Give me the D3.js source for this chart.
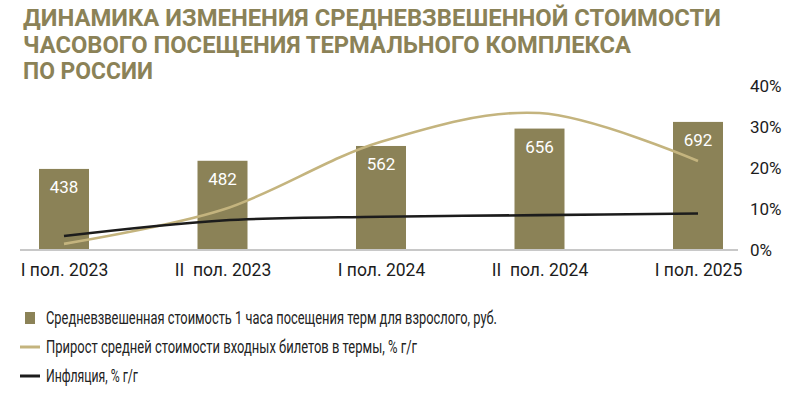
<!DOCTYPE html>
<html><head><meta charset="utf-8">
<script src="https://cdn.jsdelivr.net/npm/d3@7"></script>
<style>
body{margin:0;background:#fff;}
svg{display:block;font-family:Roboto, "Noto Sans", sans-serif;}
</style></head>
<body><svg id="c" width="798" height="395"></svg>
<script>
const titleLines = ["ДИНАМИКА ИЗМЕНЕНИЯ СРЕДНЕВЗВЕШЕННОЙ СТОИМОСТИ","ЧАСОВОГО ПОСЕЩЕНИЯ ТЕРМАЛЬНОГО КОМПЛЕКСА","ПО РОССИИ"];
const categories = ["I пол. 2023","II\u00a0\u00a0пол. 2023","I пол. 2024","II\u00a0\u00a0пол. 2024","I пол. 2025"];
const priceValues = [438, 482, 562, 656, 692];
const growthValues = [1.5, 9.8, 26.4, 33.4, 21.7];
const inflationValues = [3.4, 7.2, 8.1, 8.5, 8.9];
const rightTicks = [0, 10, 20, 30, 40];
const legendLabels = ["Средневзвешенная стоимость 1 часа посещения терм для взрослого, руб.","Прирост средней стоимости входных билетов в термы, % г/г","Инфляция, % г/г"];

const olive = "#8b8257", beige = "#c4b47e", dark = "#1c1c1c";
const svg = d3.select("#c");

// title
const tl = [698, 608, 130];
svg.append("g").selectAll("text").data(titleLines).join("text")
  .attr("x", 23).attr("y", (d,i)=>26+i*26.5)
  .attr("fill", olive).attr("font-size", 23.5).attr("font-weight", 700)
  .attr("textLength", (d,i)=>tl[i]).attr("lengthAdjust","spacingAndGlyphs")
  .text(d=>d);

const x = d3.scalePoint().domain(categories).range([64, 698]);
const yL = d3.scaleLinear().domain([0, 886]).range([250, 86]);
const yR = d3.scaleLinear().domain([0, 40]).range([250, 86]);
const bw = 50;

// bars
svg.append("g").selectAll("rect").data(priceValues).join("rect")
  .attr("x",(d,i)=>x(categories[i])-bw/2).attr("width",bw)
  .attr("y",d=>yL(d)).attr("height",d=>yL(0)-yL(d)).attr("fill",olive);

// baseline
svg.append("line").attr("x1",20).attr("x2",738).attr("y1",yL(0)).attr("y2",yL(0))
  .attr("stroke","#c8c8c8").attr("stroke-width",2);

// bar labels
svg.append("g").selectAll("text").data(priceValues).join("text")
  .attr("x",(d,i)=>x(categories[i])).attr("y",d=>yL(d)+24)
  .attr("text-anchor","middle").attr("fill","#fff").attr("font-size",17)
  .text(d=>d);

// lines
const line = vals => d3.line().x((d,i)=>x(categories[i])).y(d=>yR(d)).curve(d3.curveCatmullRom.alpha(0.5))(vals);
svg.append("path").attr("d",line(growthValues)).attr("fill","none").attr("stroke",beige).attr("stroke-width",2.6);
svg.append("path").attr("d",line(inflationValues)).attr("fill","none").attr("stroke",dark).attr("stroke-width",2.6);

// right axis
const ax = svg.append("g").attr("transform","translate(741,0)")
  .call(d3.axisRight(yR).tickValues(rightTicks).tickFormat(d=>d+"%").tickSize(0).tickPadding(9));
ax.select(".domain").remove();
ax.selectAll("text").attr("font-size",17).attr("fill",dark).attr("font-family","Roboto, sans-serif");

// x axis labels
const xa = svg.append("g").attr("transform","translate(0,250)")
  .call(d3.axisBottom(x).tickSize(0).tickPadding(14));
xa.select(".domain").remove();
xa.selectAll("text").attr("font-size",17.5).attr("fill",dark).attr("font-family","Roboto, sans-serif");

// legend
const lg = svg.append("g");
const ly = [318, 347, 376];
const lw = [451, 371, 92];
lg.append("rect").attr("x",25).attr("y",ly[0]-6).attr("width",10).attr("height",12).attr("fill",olive);
lg.append("line").attr("x1",20).attr("x2",40).attr("y1",ly[1]).attr("y2",ly[1]).attr("stroke",beige).attr("stroke-width",3);
lg.append("line").attr("x1",20).attr("x2",40).attr("y1",ly[2]).attr("y2",ly[2]).attr("stroke",dark).attr("stroke-width",3);
lg.selectAll("text").data(legendLabels).join("text")
  .attr("x",46).attr("y",(d,i)=>ly[i]).attr("dy","0.35em")
  .attr("font-size",18).attr("fill","#222")
  .attr("textLength",(d,i)=>lw[i]).attr("lengthAdjust","spacingAndGlyphs")
  .text(d=>d);
</script></body></html>
